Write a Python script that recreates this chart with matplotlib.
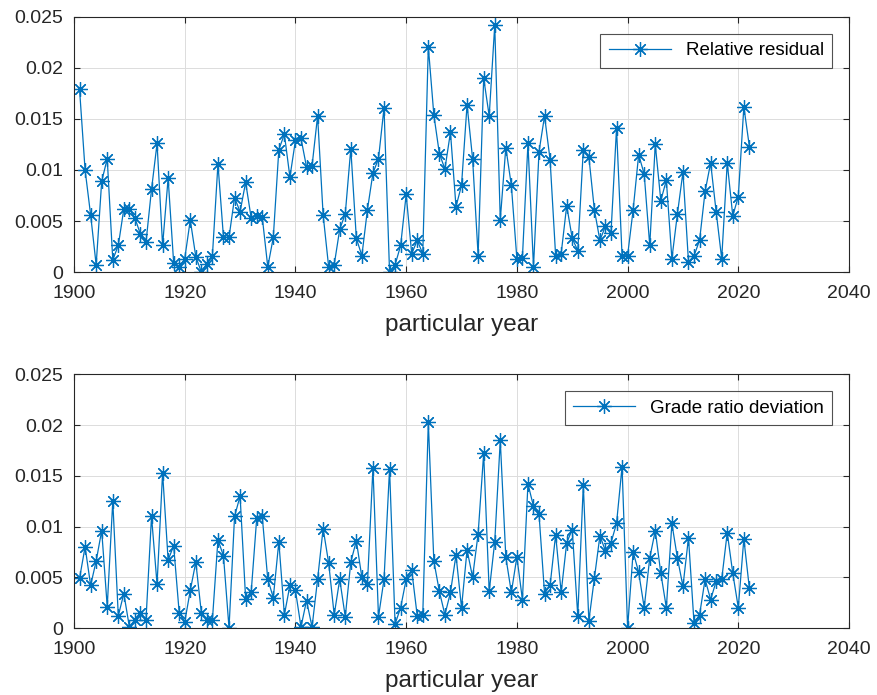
import matplotlib
matplotlib.use('Agg')
import matplotlib.pyplot as plt
import numpy as np
from matplotlib.ticker import FuncFormatter

plt.rcParams['font.family'] = ['Liberation Sans', 'DejaVu Sans']

years = np.arange(1901, 2023)

relative_residual = [
    0.0179, 0.0100, 0.0056, 0.0007, 0.0089, 0.0111, 0.0012, 0.0026, 0.0062, 0.0062,
    0.0053, 0.0037, 0.0029, 0.0081, 0.0126, 0.0026, 0.0092, 0.0009, 0.0005, 0.0013,
    0.0051, 0.0015, 0.0000, 0.0008, 0.0016, 0.0106,
    0.0034, 0.0034, 0.0073, 0.0059, 0.0088, 0.0053, 0.0055, 0.0054, 0.0005, 0.0034,
    0.0120, 0.0135, 0.0093, 0.0129, 0.0131, 0.0103, 0.0104, 0.0153, 0.0056, 0.0005,
    0.0007, 0.0042, 0.0057, 0.0121,
    0.0033, 0.0016, 0.0061, 0.0097, 0.0111, 0.0161, 0.0000, 0.0007, 0.0026, 0.0076,
    0.0018, 0.0031, 0.0018, 0.0221, 0.0154, 0.0116, 0.0101, 0.0137, 0.0064, 0.0085,
    0.0164, 0.0111, 0.0016, 0.0190,
    0.0153, 0.0242, 0.0051, 0.0122, 0.0085, 0.0013, 0.0014, 0.0126, 0.0005, 0.0118,
    0.0153, 0.0110, 0.0016, 0.0018, 0.0065, 0.0033, 0.0021, 0.0120, 0.0113, 0.0061,
    0.0031, 0.0045, 0.0038, 0.0141,
    0.0016, 0.0016, 0.0061, 0.0115, 0.0096, 0.0026, 0.0125, 0.0070, 0.0090, 0.0013,
    0.0057, 0.0098, 0.0010, 0.0016, 0.0031, 0.0079, 0.0107, 0.0059, 0.0013, 0.0107,
    0.0055, 0.0074, 0.0162, 0.0123,
]

grade_ratio_dev = [
    0.0049, 0.0080, 0.0042, 0.0066, 0.0096, 0.0021, 0.0125, 0.0012, 0.0034, 0.0001,
    0.0008, 0.0015, 0.0008, 0.0110, 0.0043, 0.0153, 0.0067, 0.0081, 0.0015, 0.0006,
    0.0037, 0.0065, 0.0015, 0.0008, 0.0008, 0.0087,
    0.0071, 0.0000, 0.0110, 0.0130, 0.0029, 0.0035, 0.0108, 0.0110, 0.0048, 0.0030,
    0.0085, 0.0013, 0.0042, 0.0037, 0.0001, 0.0027, 0.0001, 0.0048, 0.0098, 0.0064,
    0.0013, 0.0048, 0.0011, 0.0065,
    0.0086, 0.0050, 0.0043, 0.0158, 0.0011, 0.0048, 0.0157, 0.0004, 0.0020, 0.0048,
    0.0057, 0.0012, 0.0013, 0.0203, 0.0066, 0.0036, 0.0013, 0.0035, 0.0072, 0.0020,
    0.0077, 0.0050, 0.0093, 0.0172,
    0.0036, 0.0085, 0.0185, 0.0070, 0.0035, 0.0070, 0.0028, 0.0142, 0.0120, 0.0112,
    0.0034, 0.0042, 0.0092, 0.0035, 0.0084, 0.0097, 0.0012, 0.0141, 0.0007, 0.0049,
    0.0091, 0.0076, 0.0084, 0.0103,
    0.0159, 0.0000, 0.0075, 0.0055, 0.0020, 0.0069, 0.0096, 0.0054, 0.0020, 0.0103,
    0.0069, 0.0041, 0.0089, 0.0005, 0.0013, 0.0048, 0.0028, 0.0046, 0.0048, 0.0094,
    0.0054, 0.0020, 0.0088, 0.0039,
]

xticks = [1900, 1920, 1940, 1960, 1980, 2000, 2020, 2040]
yticks = [0, 0.005, 0.01, 0.015, 0.02, 0.025]

line_color = '#0072BD'
axis_color = '#262626'

fig = plt.figure(figsize=(8.77, 6.95), dpi=100)
ax1 = fig.add_axes([0.0844, 0.6086, 0.8837, 0.367])
ax2 = fig.add_axes([0.0844, 0.0964, 0.8837, 0.365])

for ax, data, name in [(ax1, relative_residual, 'Relative residual'),
                       (ax2, grade_ratio_dev, 'Grade ratio deviation')]:
    ax.plot(years, data, color=line_color, linewidth=0.9,
            marker=(8, 2, 0), markersize=10.5, markeredgewidth=0.9, label=name)
    ax.set_xlim(1900, 2040)
    ax.set_ylim(0, 0.025)
    ax.set_xticks(xticks)
    ax.set_yticks(yticks)
    ax.yaxis.set_major_formatter(FuncFormatter(lambda v, p: '%g' % v))
    ax.grid(True, color='#dcdcdc', linewidth=0.7)
    ax.set_axisbelow(True)
    ax.tick_params(direction='in', top=True, right=True, length=4,
                   labelsize=14, colors=axis_color)
    ax.tick_params(axis='x', pad=9)
    ax.tick_params(axis='y', pad=8)
    for s in ax.spines.values():
        s.set_color(axis_color)
        s.set_linewidth(0.8)
    ax.set_xlabel('particular year', fontsize=17.5, color=axis_color, labelpad=9)
    leg = ax.legend(loc='upper right', fontsize=13.5, frameon=True, fancybox=False,
                    edgecolor=axis_color, handlelength=3.3, borderaxespad=0.9,
                    borderpad=0.45)
    leg.get_frame().set_linewidth(0.8)

fig.savefig('out.png', dpi=100)
